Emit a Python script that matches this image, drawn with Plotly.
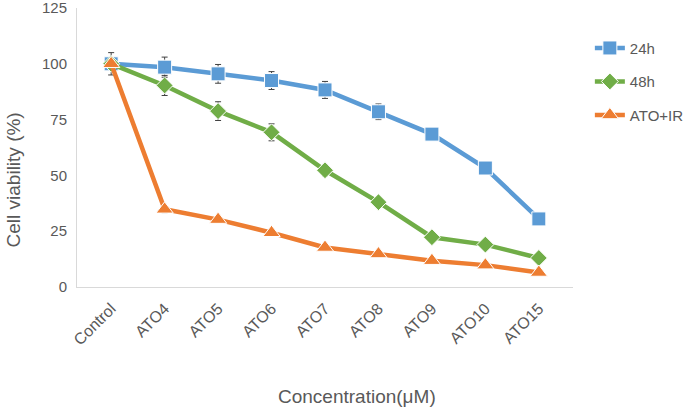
import plotly.graph_objects as go

categories = ["Control", "ATO4", "ATO5", "ATO6", "ATO7", "ATO8", "ATO9", "ATO10", "ATO15"]
v24 = [100, 98.5, 95.5, 92.5, 88.3, 78.5, 68.5, 53.3, 30.5]
e24 = [5, 4.5, 4.2, 4, 3.8, 3.5, 0.8, 0.8, 0.5]
v48 = [100, 90.3, 78.8, 69.3, 52.3, 38, 22.3, 19, 13]
e48 = [1, 4.5, 4.2, 3.8, 2.5, 1, 0.6, 0.5, 0.5]
vir = [100, 34.8, 30.2, 24.3, 17.7, 14.8, 11.8, 9.8, 6.5]
eir = [1, 1.5, 1.2, 0.8, 0.5, 0.5, 0.5, 0.5, 0.5]

series = [
    ("24h", v24, e24, "#5B9BD5", "square", 14),
    ("48h", v48, e48, "#70AD47", "diamond", 13),
    ("ATO+IR", vir, eir, "#ED7D31", "triangle-up", 15),
]

fig = go.Figure()
for name, vals, errs, col, sym, size in series:
    fig.add_trace(go.Scatter(
        x=categories, y=vals, name=name, mode="lines+markers",
        line=dict(color=col, width=4.5),
        marker=dict(symbol=sym, size=size, color=col, line=dict(color="white", width=1)),
        error_y=dict(type="data", array=errs, visible=True, color="#404040", thickness=1, width=3),
        legendgroup=name,
    ))

grey = "#595959"
fig.update_layout(
    width=695, height=408,
    margin=dict(l=77, r=122, t=8, b=121, autoexpand=False),
    paper_bgcolor="white", plot_bgcolor="white",
    font=dict(family="Liberation Sans, Arial, sans-serif", color=grey),
    showlegend=True,
    legend=dict(x=1.034, y=0.915, xanchor="left", yanchor="top",
                font=dict(size=15, color=grey), tracegroupgap=11,
                bgcolor="rgba(0,0,0,0)"),
    xaxis=dict(
        type="category", showgrid=False, showline=True, linecolor="#d9d9d9", linewidth=1,
        ticks="", tickangle=-45, tickfont=dict(size=16, color=grey), automargin=False,
        ticklabelstandoff=5,
    ),
    yaxis=dict(
        range=[0, 125], tickvals=[0, 25, 50, 75, 100, 125], showgrid=False,
        showline=True, linecolor="#d9d9d9", linewidth=1, ticks="", zeroline=False,
        tickfont=dict(size=15, color=grey), automargin=False, ticklabelstandoff=6,
        ticklabeloverflow="allow",
    ),
    annotations=[
        dict(text="Cell viability (%)", xref="paper", yref="paper", x=-0.129, y=0.382,
             textangle=-90, showarrow=False, font=dict(size=19, color=grey),
             xanchor="center", yanchor="middle"),
        dict(text="Concentration(μM)", xref="paper", yref="paper", x=0.565, y=-0.393,
             showarrow=False, font=dict(size=19, color=grey),
             xanchor="center", yanchor="middle"),
    ],
)

fig.write_html("out.html", config={"displayModeBar": False},
               post_script="document.body.style.margin='0';document.body.style.overflow='hidden';")
